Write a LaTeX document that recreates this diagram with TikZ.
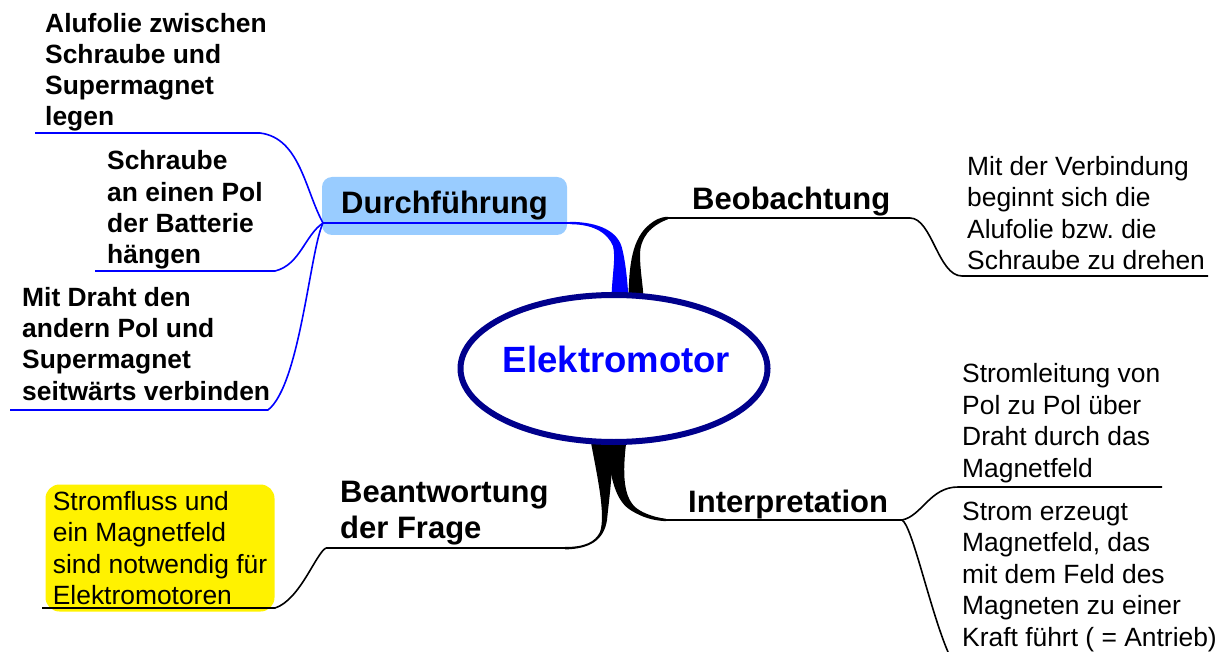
\documentclass[tikz,border=0pt]{standalone}
\usepackage{fontspec}
\setmainfont{Liberation Sans}
\usepackage{tikz}
\usetikzlibrary{shapes, backgrounds}

\definecolor{kastenblau}{RGB}{153,204,255}
\definecolor{randblau}{RGB}{0,0,140}
\definecolor{astblau}{RGB}{0,0,255}

\begin{document}
\begin{tikzpicture}[x=1pt, y=-1pt,
    topic/.style={font=\fontsize{31}{36}\selectfont\bfseries, inner sep=0pt, align=left, anchor=base west},
    leafbold/.style={font=\fontsize{26.4}{31.2}\selectfont\bfseries, inner sep=0pt, align=left, anchor=base west},
    leaf/.style={font=\fontsize{26.4}{31.6}\selectfont, inner sep=0pt, align=left, anchor=base west},
    twig/.style={line width=1.6pt, line join=round}]
\useasboundingbox (0,0) rectangle (1223,652);

\node[ellipse, draw=randblau, line width=6pt, fill=white, minimum width=307pt, minimum height=147pt, inner sep=0pt] (elektro) at (614,368.5) {};
\node[text=astblau, inner sep=0pt, font=\fontsize{36.5}{40}\selectfont\bfseries] (elektrotext) at (616.5,359) {Elektromotor};

\node[fill=kastenblau, rounded corners=10pt, minimum width=245pt, minimum height=58pt, inner sep=0pt, font=\fontsize{31}{36}\selectfont\bfseries] (durch) at (444.5,206) {Durchführung};
\node[topic] (beob) at (692,210) {Beobachtung};
\node[topic] (interp) at (688,512) {Interpretation};
\node[topic] (frage) at (340,538) {Beantwortung\\der Frage};

% Grundlinie der letzten Zeile
\node[leafbold] (alufolie) at (45,126) {Alufolie zwischen\\Schraube und\\Supermagnet\\legen};
\node[leafbold] (schraube) at (107,263.5) {Schraube\\an einen Pol\\der Batterie\\hängen};
\node[leafbold] (draht) at (22,400) {Mit Draht den\\andern Pol und\\Supermagnet\\seitwärts verbinden};
\node[leaf] (drehen) at (967,270) {Mit der Verbindung\\beginnt sich die\\Alufolie bzw.\ die\\Schraube zu drehen};
\node[leaf] (leitung) at (962,477.5) {Stromleitung von\\Pol zu Pol über\\Draht durch das\\Magnetfeld};
\node[leaf] (antrieb) at (962,646.5) {Strom erzeugt\\Magnetfeld, das\\mit dem Feld des\\Magneten zu einer\\Kraft führt ( = Antrieb)};
\node[leaf, anchor=center, fill=yellow, rounded corners=14pt, minimum width=229pt, minimum height=127pt, inner xsep=7pt] (fluss) at (160,548) {Stromfluss und\\ein Magnetfeld\\sind notwendig für\\Elektromotoren};

% Verzweigungen
\coordinate (dpt) at (323,223);
\coordinate (alu) at (35,133);
\coordinate (schr) at (95,271);
\coordinate (dra) at (10,410);
\coordinate (bpt) at (910,218);
\coordinate (beo) at (1208,276);
\coordinate (ipt) at (902,520);
\coordinate (lei) at (1162,487);
\coordinate (ant) at (948,652);
\coordinate (fpt) at (326,548);
\coordinate (flu) at (42,608);

\begin{pgfonlayer}{background}
  \fill[astblau] ([xshift=-2.5pt,yshift=-6pt]elektro.north) .. controls (612,275) and (616,258) .. (613,246) .. controls (608,234) and (595,224.2) .. (570,224.2) -- (570,221.8) .. controls (600,222) and (618,232) .. (622,248) .. controls (625,260) and (627,275) .. ([xshift=14.5pt,yshift=-6pt]elektro.north) -- cycle;
  \fill ([xshift=14.5pt,yshift=-6pt]elektro.north) .. controls (629,265) and (632,238) .. (650,224) .. controls (655,220) and (660,217) .. (668,216.8) -- (668,219.2) .. controls (650,226) and (640,238) .. (640,255) .. controls (640,270) and (643,285) .. ([xshift=29.5pt,yshift=-6pt]elektro.north) -- cycle;
  \fill ([xshift=-23.5pt,yshift=5pt]elektro.south) .. controls (597,475) and (606,515) .. (600,532) .. controls (595,542) and (585,547) .. (565,547) -- (565,549.4) .. controls (590,549) and (604,540) .. (607,520) .. controls (609,500) and (612,480) .. ([xshift=-0.5pt,yshift=5pt]elektro.south) -- cycle;
  \fill ([xshift=-7.5pt,yshift=5pt]elektro.south) .. controls (610,480) and (616,502) .. (632,511) .. controls (642,517) and (652,520.5) .. (666,521.2) -- (666,518.8) .. controls (652,517) and (640,512) .. (634,506) .. controls (624,495) and (622,475) .. ([xshift=12.5pt,yshift=5pt]elektro.south) -- cycle;
\end{pgfonlayer}

\draw[twig, astblau] (dpt) -- (571,223);
\draw[twig, astblau] (dpt) .. controls (305,190) and (300,138) .. (260,133) -- (alu);
\draw[twig, astblau] (dpt) .. controls (305,235) and (300,265) .. (275,271) -- (schr);
\draw[twig, astblau] (dpt) .. controls (310,250) and (300,385) .. (268,410) -- (dra);

\draw[twig] (667,218) -- (bpt);
\draw[twig] (bpt) .. controls (932,218) and (938,276) .. (962,276) -- (beo);

\draw[twig] (665,520) -- (ipt);
\draw[twig] (ipt) .. controls (922,516) and (930,487) .. (958,487) -- (lei);
\draw[twig] (ipt) .. controls (912,525) and (930,610) .. (ant);

\draw[twig] (566,548) -- (fpt);
\draw[twig] (fpt) .. controls (316,553) and (300,600) .. (275,608) -- (flu);
\end{tikzpicture}
\end{document}
